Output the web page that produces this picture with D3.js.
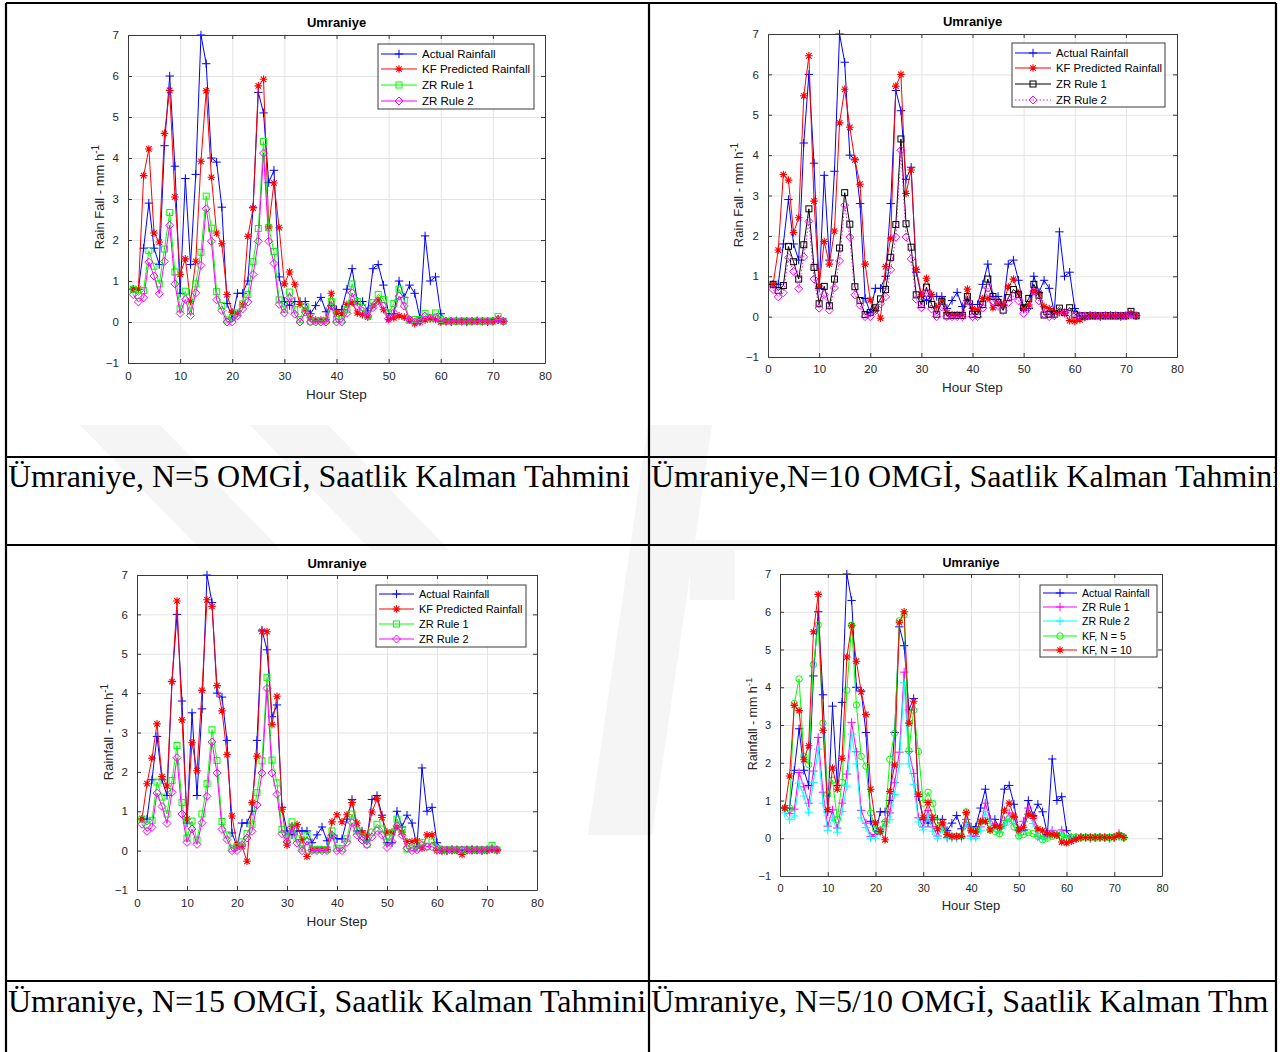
<!DOCTYPE html>
<html>
<head>
<meta charset="utf-8">
<script src="https://cdn.jsdelivr.net/npm/d3@7"></script>
<style>
  body { margin: 0; background: #fff; }
  svg { display: block; }
</style>
</head>
<body>
<svg id="fig" width="1284" height="1052"></svg>
<script>
// ---- data: hourly rainfall (mm/h) at Umraniye, hour steps 1..72 ----
const hours = d3.range(1, 73);

const actualRainfall = [
  0.8, 0.8, 1.8, 2.9, 1.8, 1.4, 4.3, 6.0, 3.8, 0.7,
  3.5, 1.4, 3.6, 7.0, 6.3, 4.0, 3.9, 2.8, 0.45, 0.1,
  0.7, 0.7, 1.0, 2.8, 5.6, 5.1, 3.4, 3.7, 1.1, 0.5,
  0.4, 0.5, 0.5, 0.5, 0.2, 0.4, 0.6, 0.25, 0.4, 0.3,
  0.3, 0.8, 1.3, 0.5, 0.5, 0.27, 1.3, 1.4, 0.9, 0.2,
  0.2, 1.0, 0.6, 0.9, 0.7, 0.1, 2.1, 1.0, 1.1, 0.2,
  0.02, 0.0, 0.03, 0.02, 0.0, 0.02, 0.03, 0.02, 0.0, 0.02,
  0.05, 0.02
];

const kfN5 = [
  0.8, 0.8, 3.57, 4.22, 2.17, 1.95, 4.6, 5.65, 3.05, 1.16,
  1.54, 0.5, 1.48, 3.92, 5.64, 3.53, 2.17, 1.91, 0.67, 0.24,
  0.21, 0.42, 2.09, 2.78, 5.76, 5.92, 2.32, 3.39, 2.3, 0.93,
  1.22, 0.92, 0.43, 0.3, 0.1, 0.05, 0.05, 0.06, 0.7, 0.22,
  0.2, 0.43, 0.47, 0.22, 0.18, 0.12, 0.4, 0.53, 0.3, 0.06,
  0.1, 0.15, 0.12, 0.05, -0.04, 0.0, 0.05, 0.08, 0.06, 0.0,
  0.02, 0.03, 0.02, 0.03, 0.02, 0.02, 0.03, 0.02, 0.02, 0.03,
  0.08, 0.02
];

const kfN10 = [
  0.8, 1.65, 3.52, 3.38, 2.08, 2.45, 5.47, 6.46, 2.86, 0.76,
  1.86, 1.3, 2.12, 4.8, 5.63, 4.69, 3.88, 3.28, 1.3, 0.41,
  0.18, -0.04, 1.24, 1.94, 5.71, 6.0, 3.05, 3.63, 1.17, 0.54,
  0.95, 0.55, 0.25, 0.41, 0.1, 0.05, 0.05, 0.05, 0.68, 0.2,
  0.17, 0.45, 0.45, 0.22, 0.33, 0.3, 0.74, 0.93, 0.58, 0.22,
  0.29, 0.64, 0.58, 0.25, 0.2, 0.12, 0.1, 0.08, -0.1, -0.12,
  -0.08, -0.02, 0.02, 0.02, 0.02, 0.02, 0.02, 0.02, 0.02, 0.02,
  0.08, 0.02
];

const kfN15 = [
  0.81, 1.7, 2.35, 3.22, 1.88, 1.64, 4.29, 6.34, 3.32, 0.8,
  2.74, 2.03, 4.07, 6.37, 6.2, 4.19, 3.55, 2.44, 0.88, 0.14,
  0.11, -0.27, 1.22, 2.4, 5.57, 5.56, 3.2, 3.92, 1.05, 0.14,
  0.62, 0.66, 0.28, -0.15, 0.03, 0.03, 0.03, 0.03, 0.73, 0.91,
  0.73, 0.91, 1.22, 0.7, 0.45, 0.38, 0.98, 1.32, 0.84, 0.47,
  0.47, 0.6, 0.47, 0.23, 0.23, 0.25, 0.06, 0.4, 0.4, 0.0,
  -0.02, 0.0, 0.0, 0.0, -0.1, 0.0, 0.0, 0.0, 0.0, 0.0,
  0.03, 0.0
];

const zrRule1 = [
  0.8, 0.65, 0.77, 1.74, 1.36, 0.93, 1.78, 2.67, 1.22, 0.32,
  0.75, 0.27, 0.93, 1.7, 3.07, 2.29, 0.74, 0.4, 0.05, 0.1,
  0.22, 0.44, 0.67, 1.47, 2.28, 4.4, 2.3, 1.72, 0.54, 0.3,
  0.73, 0.3, 0.06, 0.38, 0.02, 0.03, 0.03, 0.03, 0.5, 0.06,
  0.05, 0.3, 0.93, 0.5, 0.35, 0.16, 0.47, 0.67, 0.55, 0.22,
  0.45, 0.8, 0.53, 0.04, 0.06, 0.06, 0.21, 0.1, 0.22, 0.06,
  0.02, 0.02, 0.02, 0.02, 0.02, 0.02, 0.02, 0.02, 0.02, 0.02,
  0.13, 0.02
];

const zrRule2 = [
  0.67, 0.49, 0.59, 1.46, 1.12, 0.69, 1.48, 2.36, 0.93, 0.21,
  0.55, 0.16, 0.71, 1.38, 2.76, 1.97, 0.54, 0.28, 0.0, 0.0,
  0.15, 0.32, 0.49, 1.16, 1.97, 4.12, 1.97, 1.43, 0.43, 0.22,
  0.59, 0.19, 0.0, 0.24, 0.0, 0.0, 0.0, 0.0, 0.39, 0.0,
  0.0, 0.21, 0.71, 0.39, 0.27, 0.15, 0.35, 0.51, 0.39, 0.08,
  0.23, 0.63, 0.39, 0.06, 0.0, 0.02, 0.15, 0.1, 0.1, 0.02,
  0.02, 0.02, 0.02, 0.02, 0.02, 0.02, 0.02, 0.02, 0.02, 0.02,
  0.05, 0.02
];

const xTicks = [0, 10, 20, 30, 40, 50, 60, 70, 80];
const yTicks = [-1, 0, 1, 2, 3, 4, 5, 6, 7];

const chartTitle = "Umraniye";
const xAxisTitle = "Hour Step";

const captions = [
  "Ümraniye, N=5 OMGİ, Saatlik Kalman Tahmini",
  "Ümraniye,N=10 OMGİ, Saatlik Kalman Tahmini",
  "Ümraniye, N=15 OMGİ, Saatlik Kalman Tahmini",
  "Ümraniye, N=5/10 OMGİ, Saatlik Kalman Thm"
];

// ---- colours ----
const BLUE = "#0000ff", RED = "#ff0000", GREEN = "#00ff00",
      MAGENTA = "#ff00ff", BLACK = "#000000", CYAN = "#00ffff";
const AXIS_COL = "#3a3a3a", GRID_COL = "#e4e4e4", TEXT_COL = "#262626";
const SANS = "'Liberation Sans', Arial, Helvetica, sans-serif";
const SERIF = "'Liberation Serif', 'Times New Roman', serif";

const svg = d3.select("#fig");

// ---- faint background watermark ----
const wm = svg.append("g").attr("fill", "#f5f5f5");
const wmShapes = [
  [[80, 425], [160, 425], [310, 580], [230, 580]],
  [[250, 425], [328, 425], [478, 580], [400, 580]],
  [[648, 425], [712, 425], [652, 835], [588, 835]],
  [[690, 540], [760, 540], [760, 600], [690, 600]]
];
wmShapes.forEach(p => wm.append("polygon").attr("points", p.map(q => q.join(",")).join(" ")));

// ---- panel layout ----
const panels = [
  {
    frame: [80, 8, 530, 415],
    box: { l: 128, r: 545, t: 35, b: 363 },
    titleY: 27, xTickY: 380, xLabY: 399, tickFont: 11.5, labFont: 13.5,
    ylab: { x: 104, y: 197, main: "Rain Fall - mm h" },
    legend: { x: 378, y: 44, w: 156, h: 65, rows: [54, 69, 85, 101], font: 11.5, len: 36 },
    series: [
      { name: "Actual Rainfall", values: actualRainfall, color: BLUE, marker: "plus" },
      { name: "KF Predicted Rainfall", values: kfN5, color: RED, marker: "star" },
      { name: "ZR Rule 1", values: zrRule1, color: GREEN, marker: "square" },
      { name: "ZR Rule 2", values: zrRule2, color: MAGENTA, marker: "diamond" }
    ]
  },
  {
    frame: [712, 8, 530, 410],
    box: { l: 768, r: 1177, t: 34, b: 357 },
    titleY: 26, xTickY: 373, xLabY: 392, tickFont: 11.5, labFont: 13.5,
    ylab: { x: 743, y: 195, main: "Rain Fall - mm h" },
    legend: { x: 1012, y: 43, w: 153, h: 64, rows: [53, 68, 84, 100], font: 11.3, len: 36 },
    series: [
      { name: "Actual Rainfall", values: actualRainfall, color: BLUE, marker: "plus" },
      { name: "KF Predicted Rainfall", values: kfN10, color: RED, marker: "star" },
      { name: "ZR Rule 1", values: zrRule1, color: BLACK, marker: "square" },
      { name: "ZR Rule 2", values: zrRule2, color: MAGENTA, marker: "diamond", dash: "1.5,2" }
    ]
  },
  {
    frame: [88, 550, 485, 390],
    box: { l: 137, r: 537, t: 575, b: 890 },
    titleY: 568, xTickY: 907, xLabY: 926, tickFont: 11.5, labFont: 13.5,
    ylab: { x: 113, y: 732, main: "Rainfall - mm.h" },
    legend: { x: 376, y: 585, w: 150, h: 62, rows: [594, 609, 624, 639], font: 11, len: 35 },
    series: [
      { name: "Actual Rainfall", values: actualRainfall, color: BLUE, marker: "plus" },
      { name: "KF Predicted Rainfall", values: kfN15, color: RED, marker: "star" },
      { name: "ZR Rule 1", values: zrRule1, color: GREEN, marker: "square" },
      { name: "ZR Rule 2", values: zrRule2, color: MAGENTA, marker: "diamond" }
    ]
  },
  {
    frame: [735, 550, 495, 375],
    box: { l: 780, r: 1162, t: 574, b: 876 },
    titleY: 567, xTickY: 892, xLabY: 910, tickFont: 11, labFont: 13,
    ylab: { x: 757, y: 724, main: "Rainfall - mm h" },
    legend: { x: 1040, y: 585, w: 117, h: 72, rows: [593, 607, 621, 636, 650], font: 10.6, len: 34 },
    series: [
      { name: "Actual Rainfall", values: actualRainfall, color: BLUE, marker: "plus" },
      { name: "ZR Rule 1", values: zrRule1, color: MAGENTA, marker: "plus" },
      { name: "ZR Rule 2", values: zrRule2, color: CYAN, marker: "plus" },
      { name: "KF, N = 5", values: kfN5, color: GREEN, marker: "circle" },
      { name: "KF, N = 10", values: kfN10, color: RED, marker: "star" }
    ]
  }
];

// ---- marker shapes ----
function drawMarker(g, type, x, y, color) {
  if (type === "plus") {
    const s = 4.2;
    g.append("path").attr("d", `M${x - s},${y}H${x + s}M${x},${y - s}V${y + s}`)
      .attr("stroke", color).attr("stroke-width", 1).attr("fill", "none");
  } else if (type === "star") {
    const s = 3.8, d = s * 0.72;
    g.append("path")
      .attr("d", `M${x - s},${y}H${x + s}M${x},${y - s}V${y + s}M${x - d},${y - d}L${x + d},${y + d}M${x - d},${y + d}L${x + d},${y - d}`)
      .attr("stroke", color).attr("stroke-width", 1.1).attr("fill", "none");
  } else if (type === "square") {
    const s = 3;
    g.append("rect").attr("x", x - s).attr("y", y - s).attr("width", 2 * s).attr("height", 2 * s)
      .attr("stroke", color).attr("stroke-width", 1).attr("fill", "none");
  } else if (type === "diamond") {
    const s = 4;
    g.append("path").attr("d", `M${x},${y - s}L${x + s},${y}L${x},${y + s}L${x - s},${y}Z`)
      .attr("stroke", color).attr("stroke-width", 1).attr("fill", "none");
  } else if (type === "circle") {
    g.append("circle").attr("cx", x).attr("cy", y).attr("r", 3.2)
      .attr("stroke", color).attr("stroke-width", 1).attr("fill", "none");
  }
}

// ---- draw each panel ----
panels.forEach(p => {
  const g = svg.append("g");
  const [fx, fy, fw, fh] = p.frame;
  g.append("rect").attr("x", fx).attr("y", fy).attr("width", fw).attr("height", fh).attr("fill", "#fff");

  const x = d3.scaleLinear().domain([0, 80]).range([p.box.l, p.box.r]);
  const y = d3.scaleLinear().domain([-1, 7]).range([p.box.b, p.box.t]);
  const W = p.box.r - p.box.l, H = p.box.b - p.box.t;

  // grid
  const grid = g.append("g");
  grid.append("g").attr("transform", `translate(0,${p.box.b})`)
    .call(d3.axisBottom(x).tickValues(xTicks).tickSize(-H).tickFormat(""))
    .call(a => a.select(".domain").remove())
    .call(a => a.selectAll("line").attr("stroke", GRID_COL).attr("stroke-width", 1));
  grid.append("g").attr("transform", `translate(${p.box.l},0)`)
    .call(d3.axisLeft(y).tickValues(yTicks).tickSize(-W).tickFormat(""))
    .call(a => a.select(".domain").remove())
    .call(a => a.selectAll("line").attr("stroke", GRID_COL).attr("stroke-width", 1));

  // series lines and markers
  p.series.forEach(s => {
    const line = d3.line().x((d, i) => x(hours[i])).y(d => y(d));
    g.append("path").datum(s.values)
      .attr("d", line).attr("fill", "none")
      .attr("stroke", s.color).attr("stroke-width", 1)
      .attr("stroke-dasharray", s.dash || null);
    const mg = g.append("g");
    s.values.forEach((v, i) => drawMarker(mg, s.marker, x(hours[i]), y(v), s.color));
  });

  // axes (inward ticks on all sides, box)
  const styleAxis = a => {
    a.select(".domain").attr("stroke", AXIS_COL).attr("stroke-width", 1);
    a.selectAll(".tick line").attr("stroke", AXIS_COL);
    a.selectAll("text").attr("fill", TEXT_COL).style("font-family", SANS).style("font-size", p.tickFont + "px");
  };
  const xb = g.append("g").attr("transform", `translate(0,${p.box.b})`)
    .call(d3.axisBottom(x).tickValues(xTicks).tickSizeInner(-4).tickSizeOuter(0).tickPadding(0).tickFormat(d3.format("d")))
    .call(styleAxis);
  xb.selectAll("text").attr("y", p.xTickY - p.box.b).attr("dy", null);
  g.append("g").attr("transform", `translate(0,${p.box.t})`)
    .call(d3.axisTop(x).tickValues(xTicks).tickSizeInner(-4).tickSizeOuter(0).tickFormat(""))
    .call(styleAxis);
  g.append("g").attr("transform", `translate(${p.box.l},0)`)
    .call(d3.axisLeft(y).tickValues(yTicks).tickSizeInner(-4).tickSizeOuter(0).tickPadding(9).tickFormat(d3.format("d")))
    .call(styleAxis);
  g.append("g").attr("transform", `translate(${p.box.r},0)`)
    .call(d3.axisRight(y).tickValues(yTicks).tickSizeInner(-4).tickSizeOuter(0).tickFormat(""))
    .call(styleAxis);

  // title and axis labels
  const cx = (p.box.l + p.box.r) / 2;
  g.append("text").attr("x", cx).attr("y", p.titleY).attr("text-anchor", "middle")
    .style("font-family", SANS).style("font-size", (p.labFont - 0.5) + "px").style("font-weight", "bold")
    .attr("fill", "#000").text(chartTitle);
  g.append("text").attr("x", cx).attr("y", p.xLabY).attr("text-anchor", "middle")
    .style("font-family", SANS).style("font-size", p.labFont + "px").attr("fill", TEXT_COL).text(xAxisTitle);
  const yl = g.append("text")
    .attr("transform", `translate(${p.ylab.x},${p.ylab.y}) rotate(-90)`)
    .attr("text-anchor", "middle")
    .style("font-family", SANS).style("font-size", (p.labFont - 0.5) + "px").attr("fill", TEXT_COL);
  yl.append("tspan").text(p.ylab.main);
  yl.append("tspan").attr("dy", -5).style("font-size", (p.labFont - 3.5) + "px").text("-1");

  // legend
  const L = p.legend;
  const lg = g.append("g");
  lg.append("rect").attr("x", L.x).attr("y", L.y).attr("width", L.w).attr("height", L.h)
    .attr("fill", "#fff").attr("stroke", AXIS_COL).attr("stroke-width", 1);
  p.series.forEach((s, i) => {
    const ry = L.rows[i];
    const x0 = L.x + 3, x1 = x0 + L.len;
    lg.append("line").attr("x1", x0).attr("x2", x1).attr("y1", ry).attr("y2", ry)
      .attr("stroke", s.color).attr("stroke-width", 1).attr("stroke-dasharray", s.dash || null);
    drawMarker(lg, s.marker, (x0 + x1) / 2, ry, s.color);
    lg.append("text").attr("x", x1 + 5).attr("y", ry + L.font * 0.36)
      .style("font-family", SANS).style("font-size", L.font + "px").attr("fill", "#000").text(s.name);
  });
});

// ---- surrounding table and captions ----
const table = svg.append("g").attr("stroke", "#000").attr("stroke-width", 2.2);
const TL = 6, TR = 1276, TT = 3, MID = 649;
const rowLines = [457, 545, 981];
table.append("line").attr("x1", TL).attr("x2", TR).attr("y1", TT).attr("y2", TT);
rowLines.forEach(r => table.append("line").attr("x1", TL).attr("x2", TR).attr("y1", r).attr("y2", r));
[TL, MID, TR].forEach(c => table.append("line").attr("x1", c).attr("x2", c).attr("y1", TT).attr("y2", 1052));

const cells = [
  { x0: TL, x1: MID, base: 487 },
  { x0: MID, x1: TR, base: 487 },
  { x0: TL, x1: MID, base: 1012 },
  { x0: MID, x1: TR, base: 1012 }
];
const defs = svg.append("defs");
captions.forEach((c, i) => {
  const cell = cells[i];
  defs.append("clipPath").attr("id", "cap" + i)
    .append("rect").attr("x", cell.x0 + 1).attr("y", cell.base - 40)
    .attr("width", cell.x1 - cell.x0 - 2).attr("height", 60);
  svg.append("text").attr("x", cell.x0 + 2).attr("y", cell.base)
    .attr("clip-path", `url(#cap${i})`)
    .style("font-family", SERIF).style("font-size", "32px").attr("fill", "#000").text(c);
});
</script>
</body>
</html>
